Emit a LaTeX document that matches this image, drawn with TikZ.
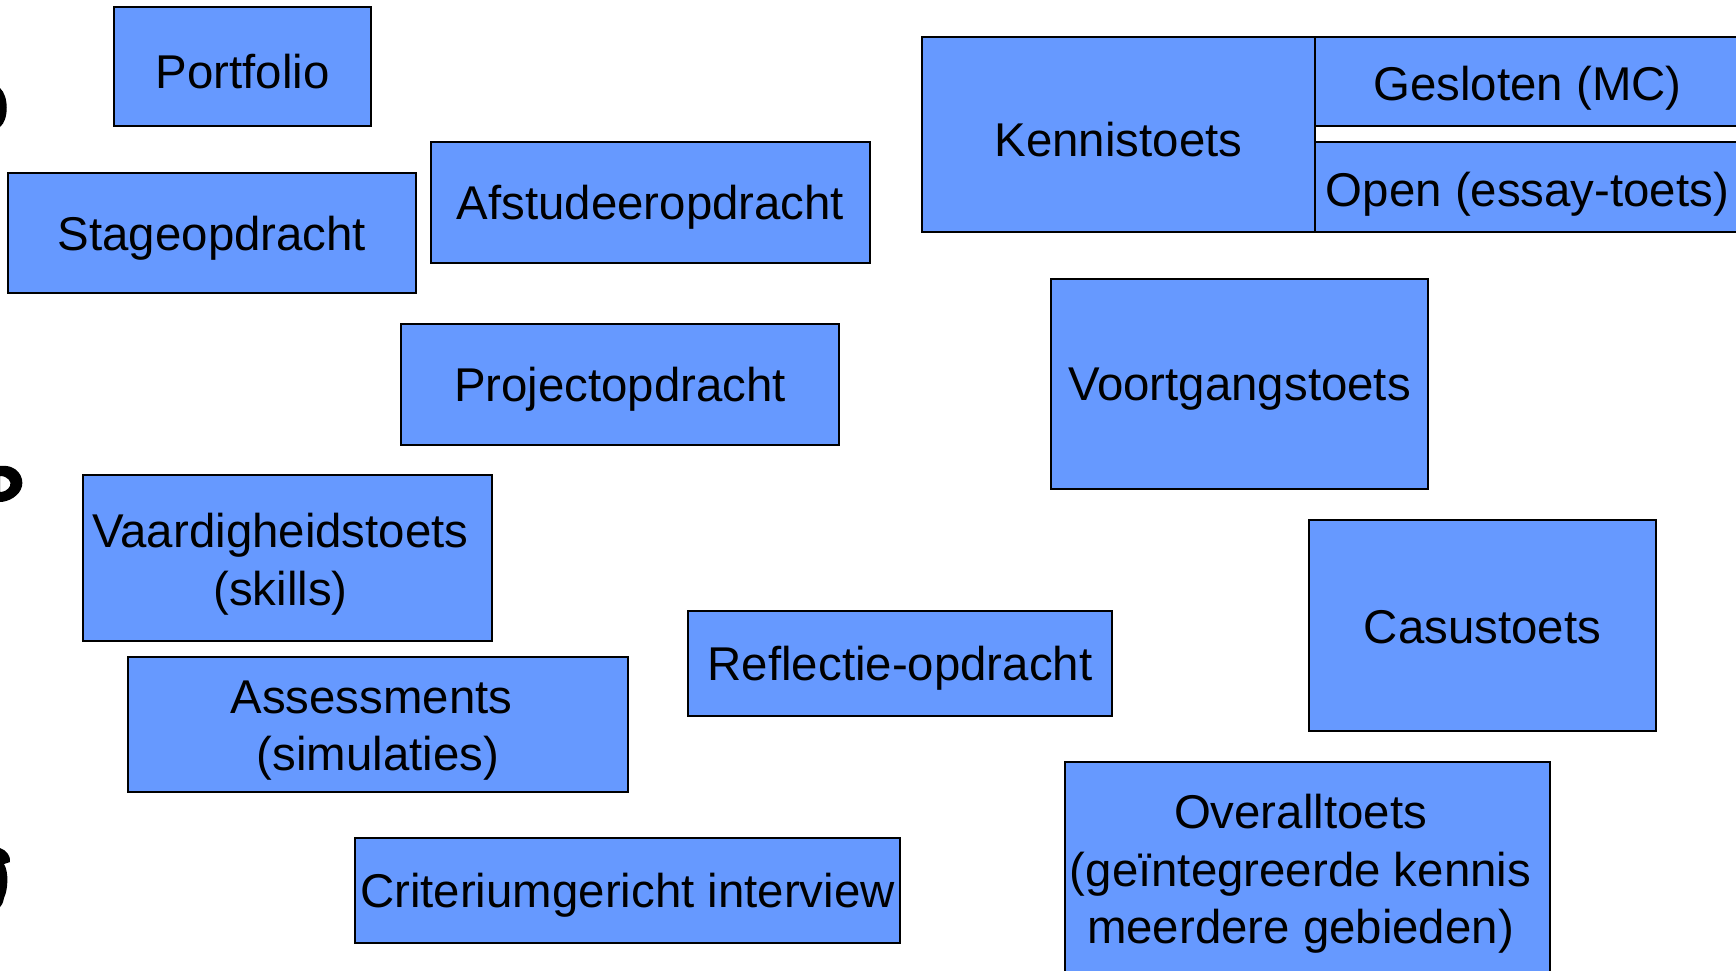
\documentclass[tikz,border=0pt]{standalone}
\usepackage{fontspec}
\setmainfont{Liberation Sans}

\definecolor{toetsblauw}{RGB}{102,153,255}

\tikzset{
  vorm/.style={draw=black, line width=1pt, fill=toetsblauw, inner sep=0pt},
  tekst/.style={align=center, inner sep=0pt, font=\fontsize{23.7pt}{28.8pt}\selectfont},
  rand/.style={fill=black, draw=none},
}

% [tekstverschuiving] naam, x1, y1, x2, y2, tekst
\newcommand{\Blok}[7][{(0,5)}]{%
  \node[vorm, minimum width={(#5-#3)*0.5pt}, minimum height={(#6-#4)*0.5pt}]
    (#2) at ({(#3+#5)/2},{(#4+#6)/2}) {};
  \node[tekst] (#2-tekst) at ([shift={#1}] #2.center) {#7};}

\begin{document}
\begin{tikzpicture}[x=0.5pt,y=-0.5pt]
    \useasboundingbox (0,0) rectangle (1736,970);
    \clip (0,0) rectangle (1736,970);
    % resten aan de linkerrand
    \fill[rand] (0,88) .. controls (9,96) and (9,120) .. (0,127) -- cycle;
    \fill[rand, even odd rule] (0,466) .. controls (18,464) and (24,478) .. (22,486)
        .. controls (20,496) and (8,502) .. (0,502) -- cycle
        (0,476) .. controls (8,476) and (12,482) .. (10,486)
        .. controls (8,490) and (4,492) .. (0,492) -- cycle;
    \fill[rand] (0,848) .. controls (6,850) and (11,856) .. (10,862)
        -- (4,864) .. controls (9,872) and (8,890) .. (4,898)
        .. controls (3,904) and (1,906) .. (0,907) -- cycle;
    % linkerkant
    \Blok{portfolio}{114}{7}{371}{126}{Portfolio}
    \Blok{stage}{8}{173}{416}{293}{Stageopdracht}
    \Blok{afstudeer}{431}{142}{870}{263}{Afstudeeropdracht}
    \Blok{project}{401}{324}{839}{445}{Projectopdracht}
    \Blok[{(-7,6)}]{vaardig}{83}{475}{492}{641}{Vaardigheidstoets\\(skills)}
    \Blok[{(0,6)}]{assess}{128}{657}{628}{792}{Assessments\hspace*{0.278em}\\(simulaties)}
    \Blok{interview}{355}{838}{900}{943}{Criteriumgericht interview}
    \Blok{reflectie}{688}{611}{1112}{716}{Reflectie-opdracht}
    % rechterkant
    \Blok{kennis}{922}{37}{1315}{232}{Kennistoets}
    \Blok[{(0,7)}]{gesloten}{1315}{37}{1740}{126}{Gesloten (MC)}
    \Blok[{(0,7)}]{open}{1315}{142}{1740}{232}{Open (essay-toets)}
    \Blok{voortgang}{1051}{279}{1428}{489}{Voortgangstoets}
    \Blok[{(0,2)}]{casus}{1309}{520}{1656}{731}{Casustoets}
    \Blok[{(-7,5)}]{overall}{1065}{762}{1550}{976}{Overalltoets\\(geïntegreerde kennis\\meerdere gebieden)}
\end{tikzpicture}
\end{document}
